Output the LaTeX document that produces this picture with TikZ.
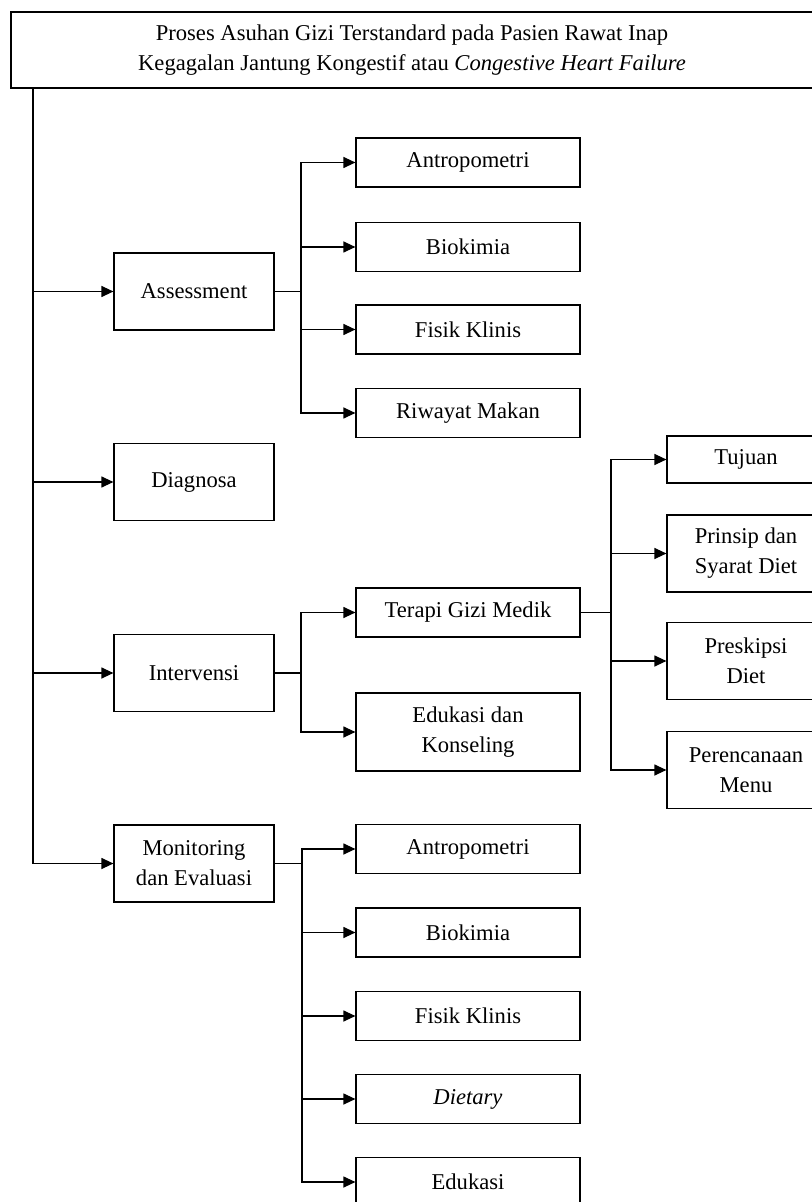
\documentclass[tikz,border=0pt]{standalone}
\usepackage{fontspec}
\setmainfont{Liberation Serif}
\usetikzlibrary{arrows.meta,positioning}

\begin{document}
\begin{tikzpicture}[
        x=0.5pt, y=-0.5pt,
        font=\fontsize{11.3}{15}\selectfont,
        >={Triangle[length=6pt,width=5.5pt]},
        % Block styles
        box/.style={
            rectangle,
            draw=black,
            line width=0.6pt,
            align=center,
            inner sep=1pt
        },
        headbox/.style={box, minimum width=401pt, minimum height=38pt},
        stage/.style={box, minimum width=80pt, minimum height=38.5pt},
        item/.style={box, minimum width=112pt, minimum height=24.5pt},
        detail/.style={box, minimum width=79pt, minimum height=38.5pt},
        link/.style={line width=0.6pt},
        arrow/.style={->, line width=0.6pt}
    ]
    \clip (0,0) rectangle (812,1202);

    % Title
    \node[headbox] (proses) at (412,50) {Proses Asuhan Gizi Terstandard pada Pasien Rawat Inap\\Kegagalan Jantung Kongestif atau \textit{Congestive Heart Failure}};

    % Stages
    \node[stage] (assess) at (194,291.5) {Assessment};
    \node[stage] (diag) at (194,482) {Diagnosa};
    \node[stage] (interv) at (194,673) {Intervensi};
    \node[stage] (monev) at (194,863.5) {Monitoring\\dan Evaluasi};

    % Assessment
    \node[item] (a1) at (468,162.5) {Antropometri};
    \node[item] (a2) at (468,247) {Biokimia};
    \node[item] (a3) at (468,329.5) {Fisik Klinis};
    \node[item] (a4) at (468,413) {Riwayat Makan};

    % Intervensi
    \node[item] (i1) at (468,612.5) {Terapi Gizi Medik};
    \node[item, minimum height=39pt] (i2) at (468,732) {Edukasi dan\\Konseling};

    % Terapi Gizi Medik
    \node[detail, minimum height=23.5pt] (t1) at (746,459.5) {Tujuan};
    \node[detail] (t2) at (746,553.5) {Prinsip dan\\Syarat Diet};
    \node[detail] (t3) at (746,661) {Preskipsi\\Diet};
    \node[detail] (t4) at (746,770) {Perencanaan\\Menu};

    % Monitoring dan Evaluasi
    \node[item] (m1) at (468,849) {Antropometri};
    \node[item] (m2) at (468,932.5) {Biokimia};
    \node[item] (m3) at (468,1016) {Fisik Klinis};
    \node[item] (m4) at (468,1099) {\textit{Dietary}};
    \node[item] (m5) at (468,1182) {Edukasi};

    % Trunk
    \coordinate (trunk) at (33,88);
    \draw[arrow] (trunk) |- (monev);
    \draw[arrow] (trunk |- assess) -- (assess);
    \draw[arrow] (trunk |- diag) -- (diag);
    \draw[arrow] (trunk |- interv) -- (interv);

    % Branches
    \coordinate (abr) at (301,291.5);
    \draw[link] (assess) -- (abr);
    \draw[arrow] (abr) |- (a1);
    \draw[arrow] (abr) |- (a2);
    \draw[arrow] (abr) |- (a3);
    \draw[arrow] (abr) |- (a4);

    \coordinate (ibr) at (301,673);
    \draw[link] (interv) -- (ibr);
    \draw[arrow] (ibr) |- (i1);
    \draw[arrow] (ibr) |- (i2);

    \coordinate (tbr) at (611,612.5);
    \draw[link] (i1) -- (tbr);
    \draw[arrow] (tbr) |- (t1);
    \draw[arrow] (tbr) |- (t2);
    \draw[arrow] (tbr) |- (t3);
    \draw[arrow] (tbr) |- (t4);

    \coordinate (mbr) at (302,863.5);
    \draw[link] (monev) -- (mbr);
    \draw[arrow] (mbr) |- (m1);
    \draw[arrow] (mbr) |- (m2);
    \draw[arrow] (mbr) |- (m3);
    \draw[arrow] (mbr) |- (m4);
    \draw[arrow] (mbr) |- (m5);

\end{tikzpicture}
\end{document}
